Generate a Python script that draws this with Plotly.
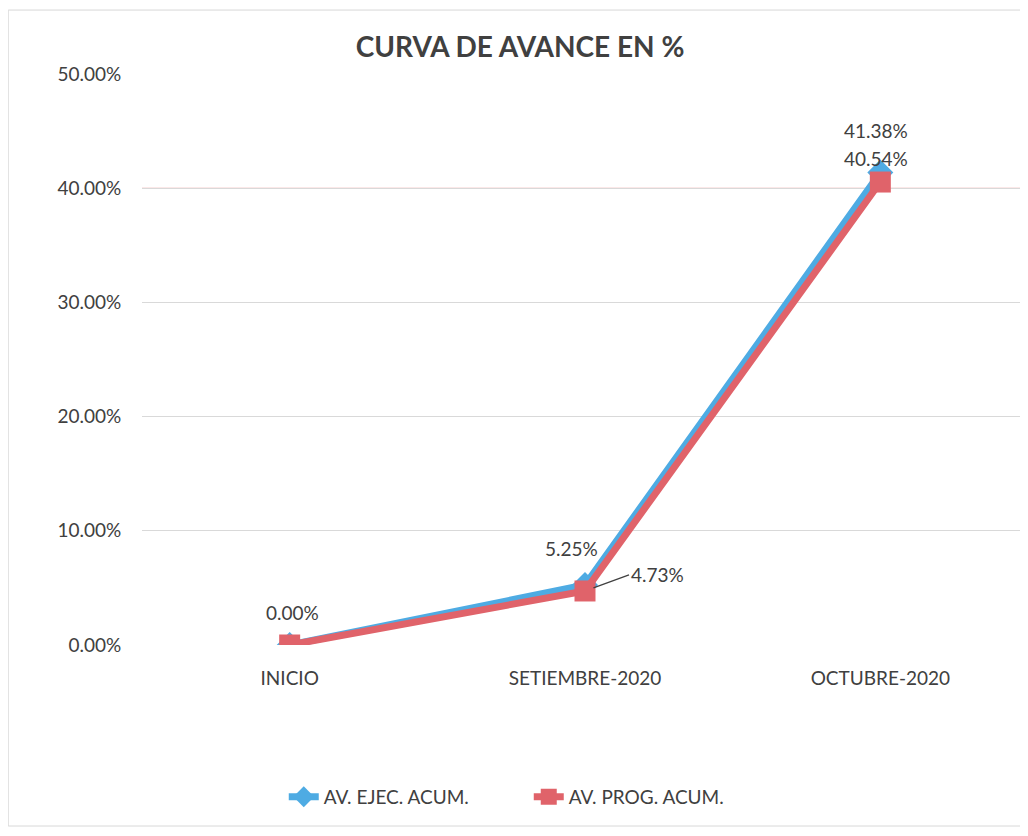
import plotly.graph_objects as go

categories = ["INICIO", "SETIEMBRE-2020", "OCTUBRE-2020"]
ejec_values = [0.0, 5.25, 41.38]
prog_values = [0.0, 4.73, 40.54]
ejec_labels = ["0.00%", "5.25%", "41.38%"]
prog_labels = ["", "4.73%", "40.54%"]
y_ticks = [0, 10, 20, 30, 40, 50]
y_tick_labels = ["0.00%", "10.00%", "20.00%", "30.00%", "40.00%", "50.00%"]

FONT = "Lato, 'Open Sans', sans-serif"
TXT = "#404040"
BLUE = "#4EABE3"
RED = "#E0636A"

fig = go.Figure()
fig.add_trace(go.Scatter(
    x=categories, y=ejec_values, name="AV. EJEC. ACUM.",
    mode="lines+markers",
    line=dict(color=BLUE, width=7),
    marker=dict(symbol="diamond", size=20, color=BLUE),
))
fig.add_trace(go.Scatter(
    x=categories, y=prog_values, name="AV. PROG. ACUM.",
    mode="lines+markers",
    line=dict(color=RED, width=7),
    marker=dict(symbol="square", size=21, color=RED),
))

# data labels (anchored at the data points)
blue_shift = [(3, 33), (-14, 37), (-4, 42)]
for i, (cat, val, lab) in enumerate(zip(categories, ejec_values, ejec_labels)):
    dx, dy = blue_shift[i]
    fig.add_annotation(x=cat, y=val, text=lab, showarrow=False,
                       xshift=dx, yshift=dy, xanchor="center", yanchor="middle",
                       font=dict(family=FONT, size=19, color=TXT))
fig.add_annotation(x=categories[2], y=prog_values[2], text=prog_labels[2], showarrow=False,
                   xshift=-4, yshift=24, xanchor="center", yanchor="middle",
                   font=dict(family=FONT, size=19, color=TXT))
fig.add_annotation(
    x=categories[1], y=prog_values[1], text=prog_labels[1],
    showarrow=True, arrowhead=0, arrowwidth=1.3, arrowcolor=TXT,
    ax=44, ay=-16, xanchor="left", standoff=9,
    font=dict(family=FONT, size=19, color=TXT),
)

fig.add_shape(type="line", xref="paper", x0=0, x1=1, yref="y", y0=40, y1=40,
              line=dict(color="#F0B4B4", width=1), layer="below")
fig.add_shape(type="rect", xref="paper", yref="paper", x0=-0.151, x1=0.993, y0=-0.317, y1=1.112,
              line=dict(color="#D8D8D8", width=1), layer="below")

fig.update_layout(
    width=1020, height=820,
    margin=dict(l=134, r=0, t=66, b=183),
    paper_bgcolor="white", plot_bgcolor="white",
    font=dict(family=FONT, size=19, color=TXT),
    title=dict(text="<b>CURVA DE AVANCE EN %</b>", x=0.502, xref="container", xanchor="center",
               y=1 - 39 / 820, yref="container", yanchor="middle",
               font=dict(family=FONT, size=28, color=TXT)),
    showlegend=True,
    legend=dict(orientation="h", x=0.160, xanchor="left",
                y=-0.266, yanchor="middle", entrywidth=200, entrywidthmode="pixels",
                font=dict(family=FONT, size=19, color=TXT)),
)
fig.update_xaxes(range=[-0.5, 2.5], showgrid=False, showline=False,
                 ticks="outside", ticklen=16, tickcolor="rgba(0,0,0,0)",
                 tickfont=dict(family=FONT, size=19, color=TXT))
fig.update_yaxes(range=[0, 50], tickvals=y_ticks, ticktext=y_tick_labels,
                 showgrid=True, gridcolor="#D9D9D9", gridwidth=1, zeroline=False,
                 showline=False, ticks="outside", ticklen=16, tickcolor="rgba(0,0,0,0)",
                 tickfont=dict(family=FONT, size=19, color=TXT))

fig.write_html("out.html")
